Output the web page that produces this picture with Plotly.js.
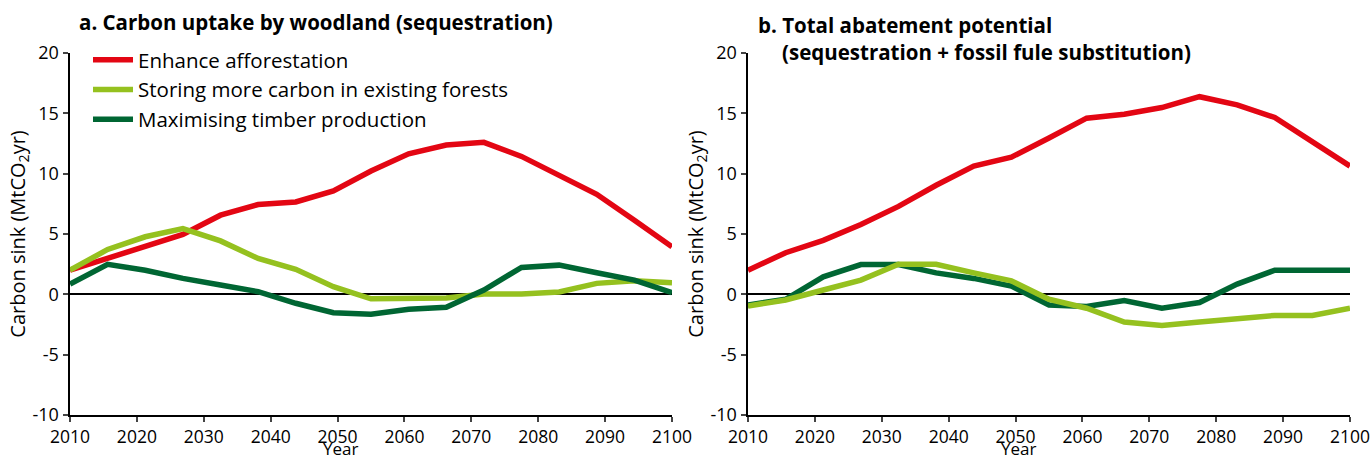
<!DOCTYPE html>
<html><head><meta charset="utf-8">
<script src="https://cdn.plot.ly/plotly-3.0.1.min.js"></script>
<style>body{margin:0;background:#fff}#c{width:1371px;height:461px}</style>
</head><body><div id="c"></div>
<script>
const years = [2010,2015.625,2021.25,2026.875,2032.5,2038.125,2043.75,2049.375,2055,2060.625,2066.25,2071.875,2077.5,2083.125,2088.75,2094.375,2100];
const seriesNames = ["Enhance afforestation","Storing more carbon in existing forests","Maximising timber production"];
const aAfforest = [2.0,2.97,3.88,4.96,6.56,7.44,7.66,8.57,10.22,11.65,12.37,12.6,11.43,9.92,8.29,6.14,3.94];
const aStoring  = [2.0,3.72,4.77,5.45,4.43,2.97,2.07,0.63,-0.37,-0.37,-0.3,0.03,0.03,0.19,0.91,1.13,0.96];
const aTimber   = [0.85,2.48,2.0,1.32,0.77,0.22,-0.74,-1.52,-1.65,-1.24,-1.07,0.36,2.23,2.42,1.79,1.18,0.14];
const bAfforest = [2.0,3.45,4.47,5.78,7.29,9.04,10.63,11.37,12.96,14.6,14.93,15.48,16.38,15.7,14.66,12.68,10.63];
const bStoring  = [-0.96,-0.47,0.36,1.18,2.49,2.49,1.78,1.12,-0.41,-1.15,-2.3,-2.58,-2.3,-2.03,-1.75,-1.75,-1.15];
const bTimber   = [-0.88,-0.41,1.45,2.47,2.47,1.78,1.32,0.68,-0.88,-1.01,-0.52,-1.15,-0.68,0.85,2.0,2.0,2.0];
const xTicks = [2010,2020,2030,2040,2050,2060,2070,2080,2090,2100];
const yTicks = [-10,-5,0,5,10,15,20];
const yTickText = ["-10","-5","0","5","10","15","20"];
const colors = ["#e30613","#95c11f","#006633"];
const font = "'Open Sans',Arial,sans-serif";

function tr(y, data, i, axis, show){
  return {x:y, y:data, type:"scatter", mode:"lines", name:seriesNames[i],
    line:{color:colors[i], width:5.5}, xaxis:axis[0], yaxis:axis[1], showlegend:show};
}
const traces = [
  tr(years,aAfforest,0,["x","y"],true),
  tr(years,aStoring,1,["x","y"],true),
  tr(years,aTimber,2,["x","y"],true),
  tr(years,bTimber,2,["x2","y2"],false),
  tr(years,bStoring,1,["x2","y2"],false),
  tr(years,bAfforest,0,["x2","y2"],false)
];
function xa(dom){return {domain:dom, range:[2010,2100], tickvals:xTicks, ticks:"outside", ticklen:5, tickwidth:2,
  showline:true, linewidth:2.5, linecolor:"#000", showgrid:false, zeroline:false,
  tickfont:{size:17.5,color:"#000",family:font}};}
function ya(anchor){return {domain:[0.0998,0.885], range:[-10,20], tickvals:yTicks, ticktext:yTickText, ticks:"outside", ticklen:5, tickwidth:2,
  showline:true, linewidth:2.5, linecolor:"#000", showgrid:false, zeroline:true, zerolinecolor:"#000", zerolinewidth:2,
  anchor:anchor, tickfont:{size:18,color:"#000",family:font},
  title:{text:"Carbon sink (MtCO<sub>2</sub>yr)", font:{size:20,color:"#000",family:font}, standoff:2}};}
const layout = {
  width:1371, height:461, margin:{l:0,r:0,t:0,b:0}, paper_bgcolor:"#fff", plot_bgcolor:"#fff",
  font:{family:font,color:"#000"},
  xaxis:Object.assign(xa([70/1371,672/1371]),{anchor:"y"}),
  yaxis:ya("x"),
  xaxis2:Object.assign(xa([748/1371,1350/1371]),{anchor:"y2"}),
  yaxis2:ya("x2"),
  showlegend:true,
  legend:{x:88/1371, y:1-40/461, xanchor:"left", yanchor:"top", bgcolor:"rgba(0,0,0,0)",
    font:{size:20.5,color:"#000",family:font}, tracegroupgap:0, itemwidth:40},
  annotations:[
    {xref:"paper",yref:"paper",x:77/1371,y:1-22/461,xanchor:"left",yanchor:"middle",showarrow:false,
     text:"<b>a. Carbon uptake by woodland (sequestration)</b>",font:{size:20.5,color:"#000",family:font}},
    {xref:"paper",yref:"paper",x:756/1371,y:1-25/461,xanchor:"left",yanchor:"middle",showarrow:false,
     text:"<b>b. Total abatement potential</b>",font:{size:20.5,color:"#000",family:font}},
    {xref:"paper",yref:"paper",x:780/1371,y:1-52/461,xanchor:"left",yanchor:"middle",showarrow:false,
     text:"<b>(sequestration + fossil fule substitution)</b>",font:{size:20.5,color:"#000",family:font}},
    {xref:"x",yref:"paper",x:2050.5,y:0,xanchor:"center",yanchor:"bottom",showarrow:false,borderpad:0,
     text:"Year",font:{size:17,color:"#000",family:font}},
    {xref:"x2",yref:"paper",x:2050.5,y:0,xanchor:"center",yanchor:"bottom",showarrow:false,borderpad:0,
     text:"Year",font:{size:17,color:"#000",family:font}}
  ]
};
Plotly.newPlot("c", traces, layout, {staticPlot:true});
</script></body></html>
